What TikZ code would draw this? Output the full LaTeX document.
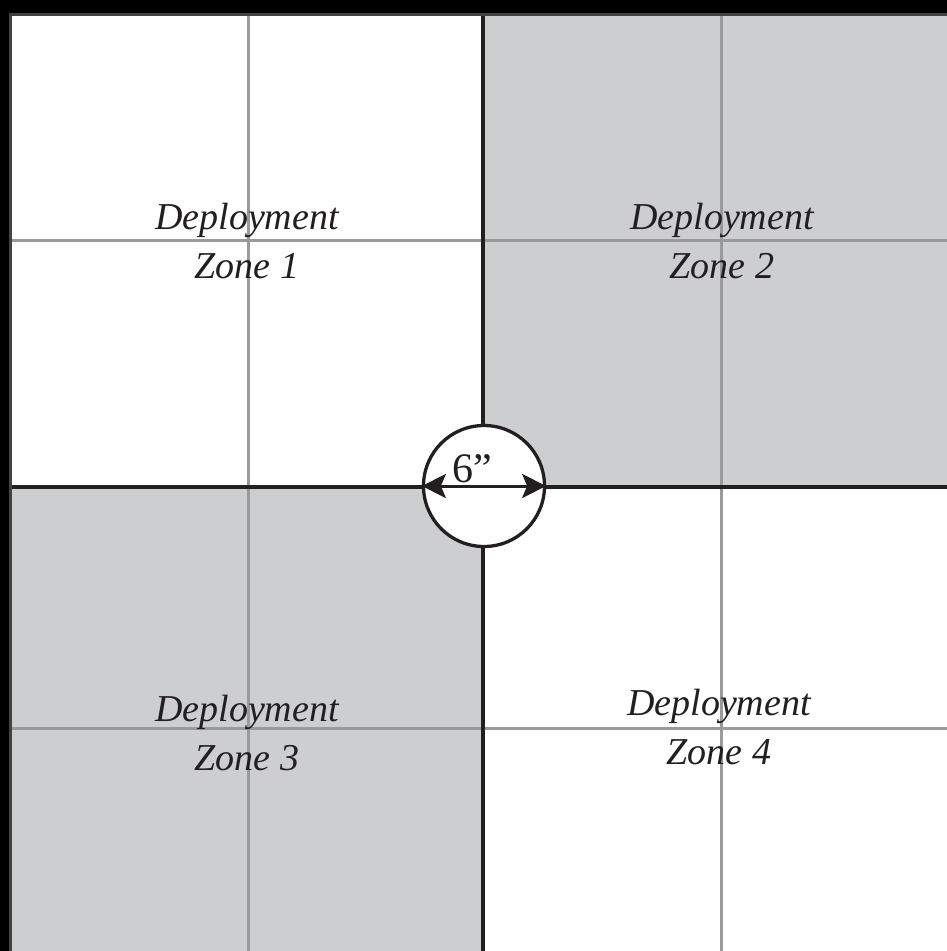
\documentclass[tikz,border=0pt]{standalone}
\usepackage{fontspec}
\setmainfont{Liberation Serif}
\usetikzlibrary{arrows.meta}
\definecolor{zonegray}{HTML}{CDCED0}
\definecolor{gridgray}{HTML}{9A9A9C}
\definecolor{ink}{HTML}{231F20}
\begin{document}
\begin{tikzpicture}[x=1pt,y=-1pt,
  zonelabel/.style={font=\fontsize{38}{49}\selectfont\itshape, align=center, text=ink, inner sep=0pt},
  gridline/.style={draw=gridgray, line width=3pt},
  splitline/.style={draw=ink, line width=3.5pt},
  dimarrow/.style={draw=ink, line width=3pt, >={Stealth[length=24pt,width=24pt,inset=5pt]}, <->}]
\useasboundingbox (0,0) rectangle (947,951);
\fill[black] (0,0) rectangle (947,951);
\fill[white] (12,16) rectangle (947,951);
\fill[zonegray] (483,16) rectangle (947,487);
\fill[zonegray] (12,487) rectangle (483,951);
% grid lines
\draw[gridline] (248,16) -- (248,951);
\draw[gridline] (721,16) -- (721,951);
\draw[gridline] (12,240) -- (947,240);
\draw[gridline] (12,728) -- (947,728);
% split lines
\draw[splitline] (483,16) -- (483,951);
\draw[splitline] (12,487) -- (947,487);
% frame edge
\draw[draw=ink!85, line width=3pt] (10.5,951) -- (10.5,14.5) -- (947,14.5);
% labels
\node[zonelabel] (z1) at (247,241) {Deployment\\Zone 1};
\node[zonelabel] (z2) at (722,241) {Deployment\\Zone 2};
\node[zonelabel] (z3) at (247,733) {Deployment\\Zone 3};
\node[zonelabel] (z4) at (719,727) {Deployment\\Zone 4};
% center circle
\node[circle, draw=ink, fill=white, line width=3.3pt, minimum size=121pt, inner sep=0pt] (c) at (484,486) {};
\draw[dimarrow] (c.west) -- (c.east);
\node[font=\fontsize{42}{48}\selectfont, text=ink, anchor=base, inner sep=0pt] (six) at (472,482) {6”};
\end{tikzpicture}
\end{document}
